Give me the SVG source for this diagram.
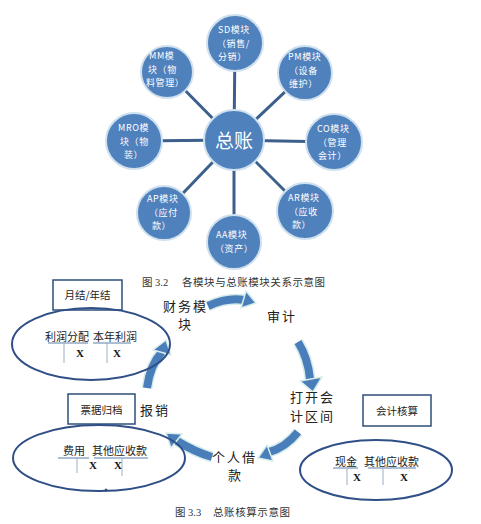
<svg xmlns="http://www.w3.org/2000/svg" width="481" height="524" viewBox="0 0 481 524">
<style>
.nd{fill:#4F81BD;stroke:#cfe0ee;stroke-width:2}
.nt{font-family:"Noto Sans CJK SC","Liberation Sans",sans-serif;font-size:9px;fill:#ffffff;letter-spacing:0.6px}
.ln{stroke:#3C5F8C;stroke-width:3;fill:none}
.cap{font-family:"Liberation Serif","Noto Sans CJK SC",serif;font-size:10.5px;fill:#333333}
.lb{font-family:"Noto Sans CJK SC","Liberation Sans",sans-serif;font-size:13px;fill:#222222;letter-spacing:2px}
.bx{fill:#ffffff;stroke:#2E4F7A;stroke-width:1.5}
.bt{font-family:"Noto Sans CJK SC","Liberation Sans",sans-serif;font-size:10.5px;fill:#222222}
.el{fill:none;stroke:#2F4F86;stroke-width:2}
.ac{font-family:"Liberation Serif","Noto Sans CJK SC",serif;font-size:11px;fill:#222222}
.xx{font-family:"Liberation Serif",serif;font-size:11px;font-weight:bold;fill:#111111;text-anchor:middle}
.ul{stroke:#5B7FA8;stroke-width:1;fill:none}
.vl{stroke:#9AAFC6;stroke-width:1;fill:none}
.ab{stroke:#4A7EBB;stroke-width:8;fill:none;stroke-linecap:butt}
.ag{stroke:#d5ecea;stroke-width:11;fill:none}
.ah{fill:#4A7EBB;stroke:#d5ecea;stroke-width:1.5;stroke-linejoin:round}
</style>
<g id="connectors">
<line class="ln" x1="234" y1="140" x2="235" y2="43"/>
<line class="ln" x1="234" y1="140" x2="167" y2="72"/>
<line class="ln" x1="234" y1="140" x2="305" y2="73"/>
<line class="ln" x1="234" y1="140" x2="134" y2="141"/>
<line class="ln" x1="234" y1="140" x2="334" y2="142"/>
<line class="ln" x1="234" y1="140" x2="164" y2="213"/>
<line class="ln" x1="234" y1="140" x2="305" y2="211"/>
<line class="ln" x1="234" y1="140" x2="234" y2="242"/>
</g>
<g id="node-gl"><circle class="nd" cx="234" cy="140" r="30"/><text x="234" y="148" text-anchor="middle" style="font-family:'Noto Sans CJK SC',sans-serif;font-size:19px;fill:#fff">总账</text></g>
<g id="node-sd"><circle class="nd" cx="235" cy="43" r="28"/><text class="nt" x="218" y="33">SD模块</text><text class="nt" x="217" y="46.5">（销售/</text><text class="nt" x="218" y="60">分销）</text></g>
<g id="node-mm"><circle class="nd" cx="167" cy="72" r="26"/><text class="nt" x="149" y="59">MM模</text><text class="nt" x="148" y="72.5">块（物</text><text class="nt" x="146" y="86">料管理）</text></g>
<g id="node-pm"><circle class="nd" cx="305" cy="73" r="27"/><text class="nt" x="288" y="60">PM模块</text><text class="nt" x="289" y="73.5">（设备</text><text class="nt" x="289" y="87">维护）</text></g>
<g id="node-mro"><circle class="nd" cx="134" cy="141" r="28"/><text class="nt" x="118" y="131">MRO模</text><text class="nt" x="120" y="144.5">块（物</text><text class="nt" x="124" y="158">装）</text></g>
<g id="node-co"><circle class="nd" cx="334" cy="142" r="28"/><text class="nt" x="317" y="132">CO模块</text><text class="nt" x="318" y="145.5">（管理</text><text class="nt" x="318" y="159">会计）</text></g>
<g id="node-ap"><circle class="nd" cx="164" cy="213" r="27"/><text class="nt" x="147" y="202">AP模块</text><text class="nt" x="149" y="215.5">（应付</text><text class="nt" x="152" y="229">款）</text></g>
<g id="node-ar"><circle class="nd" cx="305" cy="211" r="28"/><text class="nt" x="288" y="201">AR模块</text><text class="nt" x="289" y="214.5">（应收</text><text class="nt" x="292" y="228">款）</text></g>
<g id="node-aa"><circle class="nd" cx="234" cy="242" r="27"/><text class="nt" x="216" y="238">AA模块</text><text class="nt" x="215" y="251.5">（资产）</text></g>
<text class="cap" x="142" y="286">图 3.2</text>
<text class="cap" x="182" y="286" textLength="143">各模块与总账模块关系示意图</text>

<g id="arrows">
<path class="ag" d="M208,306 Q228,297 244,300"/>
<path class="ab" d="M208,306 Q228,297 244,300"/>
<polygon class="ah" points="246,291 256,303 241,308"/>
<path class="ag" d="M298,342 Q308,358 310,379"/>
<path class="ab" d="M298,342 Q308,358 310,379"/>
<polygon class="ah" points="300,381 313,392 322,377"/>
<path class="ag" d="M298,432 Q285,448 269,452"/>
<path class="ab" d="M298,432 Q285,448 269,452"/>
<polygon class="ah" points="273,461 258,458 267,445"/>
<path class="ag" d="M212,457 Q195,452 177,441"/>
<path class="ab" d="M212,457 Q195,452 177,441"/>
<polygon class="ah" points="182,434 166,433 171,448"/>
<path class="ag" d="M147,388 Q150,365 162,352"/>
<path class="ab" d="M147,388 Q150,365 162,352"/>
<polygon class="ah" points="171,355 166,340 153,350"/>
</g>

<g id="step-finance"><text class="lb" x="163" y="311">财务模</text><text class="lb" x="178" y="329">块</text></g>
<g id="step-audit"><text class="lb" x="267" y="321">审计</text></g>
<g id="step-open"><text class="lb" x="290" y="402">打开会</text><text class="lb" x="290" y="421">计区间</text></g>
<g id="step-loan"><text class="lb" x="212" y="462">个人借</text><text class="lb" x="228" y="480">款</text></g>
<g id="step-reimb"><text class="lb" x="140" y="415">报销</text></g>

<g id="box-month"><rect class="bx" x="53" y="280" width="69" height="30"/><text class="bt" x="87.5" y="299" text-anchor="middle">月结/年结</text></g>
<g id="ell-month"><ellipse class="el" cx="91" cy="344" rx="79" ry="36"/>
<text class="ac" x="45" y="341">利润分配</text><text class="ac" x="93" y="341">本年利润</text>
<path class="ul" d="M48,343 H88 M93,343 H131"/>
<path class="vl" d="M64,343 V363 M107,343 V363"/>
<text class="xx" x="80" y="357">X</text><text class="xx" x="117" y="357">X</text></g>

<g id="box-voucher"><rect class="bx" x="68" y="394" width="67" height="30"/><text class="bt" x="101.5" y="414" text-anchor="middle">票据归档</text></g>
<g id="ell-voucher"><ellipse class="el" cx="99" cy="458" rx="86" ry="33"/>
<text class="ac" x="63" y="455">费用</text><text class="ac" x="92" y="455">其他应收款</text>
<path class="ul" d="M58,458 H89 M94,458 H148"/>
<path class="vl" d="M77,458 V473 M122,458 V476"/>
<text class="xx" x="93" y="469">X</text><text class="xx" x="118" y="469">X</text>
<circle cx="106" cy="490" r="1.5" fill="#2F4F86"/></g>

<g id="box-acct"><rect class="bx" x="363" y="395" width="68" height="31"/><text class="bt" x="397" y="415" text-anchor="middle">会计核算</text></g>
<g id="ell-acct"><ellipse class="el" cx="376" cy="470" rx="76" ry="30"/>
<text class="ac" x="335" y="466">现金</text><text class="ac" x="364" y="466">其他应收款</text>
<path class="ul" d="M333,468 H358 M368,468 H416"/>
<path class="vl" d="M347,468 V485 M383,468 V485"/>
<text class="xx" x="357" y="481">X</text><text class="xx" x="404" y="481">X</text></g>

<text class="cap" x="175" y="516">图 3.3</text>
<text class="cap" x="213" y="516" textLength="77">总账核算示意图</text>
</svg>
